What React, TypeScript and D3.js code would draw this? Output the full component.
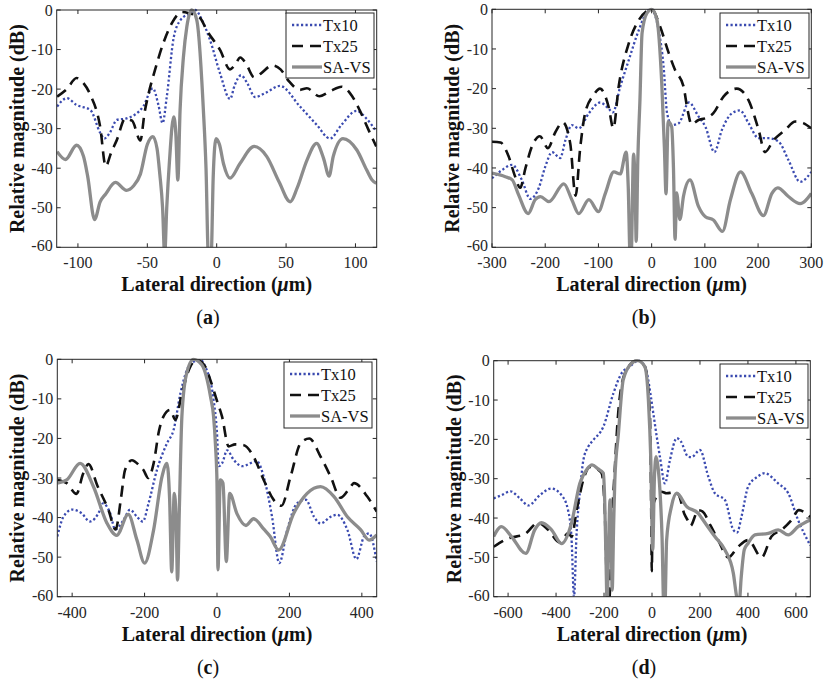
import React from 'react';
import * as d3 from 'd3';

type Pt = [number, number];

// ---------- Data (x in µm, y in dB) ----------
const aTx10: Pt[] = [[-115,-24.4],[-108,-22.3],[-101,-24],[-91,-25.3],[-84,-31],[-81,-32.5],[-77,-31],[-72,-27.8],[-65,-27.4],[-53,-24.4],[-46,-19.8],[-42,-24],[-39,-28.6],[-36,-22],[-31,-7],[-26,-2.5],[-19,-0.8],[-15.6,0],[-10,-3],[-4.8,-7.6],[2.4,-16],[9.6,-22.5],[13,-19],[17.5,-16.5],[22,-18.5],[27.6,-22],[35,-21],[45.6,-19.2],[60,-24.4],[72,-29],[81.6,-32.5],[90,-29],[100.8,-25.5],[108,-27.5],[115,-30.7]];
const aTx25: Pt[] = [[-115,-21.9],[-108,-20],[-101,-17.2],[-96,-18.5],[-91,-21.5],[-84,-29.5],[-80,-39.5],[-76,-36],[-72,-32.9],[-66,-27.5],[-61,-28],[-55,-33],[-52,-26],[-49,-21],[-44.5,-15.2],[-38.5,-8.4],[-32.4,-3.4],[-25,-0.5],[-20,-0.8],[-12,-2],[-7.2,-5.1],[2.4,-10.1],[9.6,-15],[13,-14],[17,-12],[21,-13.5],[27,-17],[32,-16],[40,-14],[46,-15],[52,-18],[60,-20.2],[65,-19.8],[74,-21.8],[82,-20.5],[90,-19.4],[96,-21],[103,-25.3],[109,-30],[115,-34.5]];
const aSAVS: Pt[] = [[-115,-35.8],[-109,-37.8],[-101,-34.2],[-96,-37],[-93,-42],[-88,-53],[-84,-48.5],[-80,-46.5],[-73,-43.6],[-65,-45.6],[-60,-44.5],[-55,-41.5],[-50,-34],[-46,-32],[-43,-35],[-41,-41.5],[-39,-50],[-37.5,-62],[-36,-50],[-34,-38],[-31,-27],[-29.5,-31],[-28,-43],[-26.4,-25.3],[-24,-12],[-21.5,-4.2],[-18,0],[-14.4,-2.5],[-9.6,-25.3],[-7.7,-40],[-6,-62],[-4,-62],[-2.5,-42],[-0.5,-32.5],[2,-34],[5,-39],[9.6,-42.5],[16.8,-38.8],[27,-34.5],[36,-37],[45,-43.5],[53,-48.5],[58,-45],[65,-38],[72,-33.7],[77,-37.5],[81,-42],[84,-37],[91,-32.5],[101,-35.4],[108,-40.4],[112,-43],[115,-43.8]];

const bTx10: Pt[] = [[-300,-42.6],[-281,-40.5],[-262,-39.2],[-244,-43],[-228,-47.8],[-212,-45],[-200,-39.7],[-187,-36],[-172,-37.5],[-162,-33],[-150,-29.2],[-137,-30],[-118,-26.2],[-97,-23.5],[-81,-25],[-73,-26],[-59,-19.5],[-43,-12.8],[-24,-5.2],[-6,-0.2],[0,0],[13,-5.2],[22.5,-14.5],[29,-26.2],[38,-29.2],[51,-28.7],[70,-23.5],[88,-27],[101,-29.6],[118,-36],[132,-30.4],[151,-26.2],[166,-25.5],[182,-28.7],[201,-32.5],[220,-32.5],[239,-33.4],[257,-38],[279,-43.5],[300,-41]];
const bTx25: Pt[] = [[-300,-33.4],[-284,-33.6],[-269,-37],[-257,-42],[-247,-45],[-237,-40],[-225,-34.6],[-210,-32],[-195,-35],[-181,-31],[-167,-28.5],[-153,-33.8],[-143,-47],[-134,-34.6],[-125,-26.2],[-109,-21.6],[-97,-20],[-81,-24.5],[-72,-30],[-62,-19.5],[-43,-8.6],[-24,-2.7],[-6,-0.2],[0,0],[16,-4.4],[32,-11],[44,-15.3],[60,-19.5],[67,-25],[75,-29],[88,-27.9],[100,-27.5],[116,-26.2],[135,-22],[160,-20],[182,-22.9],[201,-30.4],[213,-36],[229,-33],[251,-30.4],[270,-28.3],[285,-28.7],[300,-30]];
const bSAVS: Pt[] = [[-300,-41.3],[-275,-42.2],[-262,-43],[-250,-46.8],[-232,-51.5],[-219,-48],[-209,-47.2],[-193,-48.5],[-165,-44],[-150,-48],[-137,-51.5],[-118,-48],[-100,-51],[-87,-46.4],[-71,-41],[-59,-41.5],[-48,-36],[-44,-44.7],[-40.5,-62],[-38.5,-62],[-34,-36.5],[-31,-45],[-29,-58.5],[-26,-38],[-22,-22.9],[-18,-6],[-9,-1],[0,0],[10,-2.7],[19,-18.7],[24,-35],[27,-46.5],[31,-28.3],[37.6,-29.6],[41,-40],[44,-58],[47,-46.3],[53,-53],[60,-47],[72,-43],[88,-49.7],[101,-52.3],[116,-53.1],[133,-56],[148,-48],[167,-41],[188,-46.4],[210,-52],[226,-46.4],[237,-45],[257,-47.2],[279,-49],[300,-46.4]];

const cTx10: Pt[] = [[-441,-44.8],[-424,-39.8],[-400,-38],[-374,-38.9],[-351,-41],[-323,-38.1],[-315,-36.4],[-295,-38.9],[-281,-43],[-258,-40.6],[-240,-38],[-221,-39.8],[-205,-41],[-189,-36.4],[-166,-28],[-138,-21.2],[-120,-17.9],[-101,-8.6],[-83,-2.7],[-65,-0.6],[-46,-0.2],[-32,-1.9],[-9.4,-10.3],[0,-18.7],[4.6,-27],[14,-26.3],[28,-23],[46,-25.4],[70,-27],[110,-25.7],[129,-29.7],[152,-39.8],[172,-51.5],[194,-43.1],[221,-36.4],[245,-35.5],[268,-39.8],[286,-41.5],[314,-39.8],[332,-39.3],[360,-43.1],[385,-50.5],[406,-44.8],[420,-44],[441,-51.1]];
const cTx25: Pt[] = [[-441,-30.5],[-415,-31.3],[-388,-34],[-370,-29],[-355,-26.5],[-330,-32],[-300,-38],[-280,-43],[-265,-35],[-254,-28],[-235,-25.5],[-215,-26.8],[-203,-28],[-190,-30],[-175,-26.3],[-160,-18],[-148,-14.5],[-129,-12.8],[-115,-15.3],[-97,-8.6],[-74,-1.9],[-55,-0.2],[-32,-1.9],[-18.5,-5.2],[0,-10.5],[14,-14.5],[32,-22],[50,-21.5],[74,-21.7],[101,-24.6],[129,-30.5],[157,-35.6],[178,-37],[203,-29.7],[231,-21.2],[255,-20],[286,-24.6],[314,-29.7],[341,-35],[369,-32.2],[378,-31.3],[415,-34.7],[441,-38.5]];
const cSAVS: Pt[] = [[-441,-31.3],[-415,-30.5],[-378,-26.3],[-341,-32.2],[-304,-41.4],[-277,-44.5],[-245,-39.2],[-221,-45.7],[-200,-51.5],[-175,-43.1],[-152,-29.7],[-138,-26.3],[-131,-35],[-125,-53.7],[-118,-33.9],[-113,-40],[-109,-55.8],[-104,-38],[-97,-14.5],[-85,-4],[-65,0],[-42,-1.4],[-18,-9.4],[-9.4,-14.5],[-4,-22],[0,-31.3],[2.7,-53.2],[9,-30.5],[16.5,-31.3],[25.7,-51.1],[35,-33.9],[55,-39],[80,-42],[101,-40.3],[130,-43],[147,-44.8],[170,-48.2],[212,-38.9],[249,-33.9],[286,-32.2],[323,-34.7],[360,-39.8],[397,-43.1],[420,-45.7],[441,-44.4]];

const dTx10: Pt[] = [[-660,-35],[-628,-34.2],[-590,-33.2],[-551,-35],[-515,-36.8],[-468,-34.2],[-420,-32.5],[-377,-34.2],[-350,-38],[-336,-44.7],[-325,-60],[-315,-44.7],[-300,-33],[-286,-25.2],[-266,-21.9],[-245,-20.2],[-203,-16.8],[-161,-8.3],[-127,-3.2],[-92,-1.5],[-58,0],[-29,-1.5],[-5,-9],[5.5,-13.4],[33,-24.4],[54,-31.2],[75,-25.2],[103,-19.7],[120,-20.5],[151,-24.4],[165,-24.5],[200,-22.7],[235,-29.5],[262,-33.7],[304,-35.4],[339,-43],[355,-43.7],[373,-39.7],[401,-32],[440,-29.5],[470,-28.6],[526,-31.2],[568,-33.7],[609,-40.5],[660,-47]];
const dTx25: Pt[] = [[-660,-47.3],[-600,-45.2],[-530,-44.1],[-475,-41.2],[-433,-43],[-385,-46.2],[-350,-43.9],[-335,-44.7],[-314,-38],[-285,-30],[-259,-27],[-230,-27.5],[-210,-28.6],[-197,-38],[-186,-60],[-180,-62],[-175,-58],[-168,-40],[-162,-34.6],[-141,-13.4],[-113,-3.2],[-65,0],[-30,-1.5],[-9,-13.4],[-3,-40],[-1,-53.5],[2,-42],[8,-36],[40,-33.3],[61,-33.7],[90,-33.5],[110,-34],[135,-39],[151,-40.8],[160,-42],[193,-38],[210,-38.3],[245,-42],[276,-45.6],[318,-50],[359,-47.3],[401,-45.6],[457,-50],[498,-44.7],[540,-43],[582,-40.5],[612,-38],[660,-39.7]];
const dSAVS: Pt[] = [[-660,-44.7],[-628,-42.2],[-586,-44.7],[-526,-49],[-489,-43],[-461,-41.2],[-419,-43],[-377,-46.5],[-336,-41.4],[-301,-31.2],[-270,-27.5],[-250,-26.5],[-225,-27.5],[-203,-28.6],[-197,-36],[-192,-50],[-187,-62],[-182,-50],[-175,-35.4],[-170,-45],[-166,-58.3],[-160,-42],[-155,-30.3],[-140,-18.5],[-120,-4.9],[-86,-0.7],[-60,0],[-30,-1.5],[-15,-10],[-5,-25],[3,-48.1],[10,-30],[17,-24.4],[25,-27],[33,-32.9],[42,-45],[49,-62],[54,-62],[61,-45.6],[81,-37.1],[103,-33.7],[145,-37.1],[193,-38.8],[207,-40],[262,-44.7],[304,-48.1],[339,-54],[353,-60],[363,-62],[372,-55],[385,-48],[401,-46.4],[429,-44.3],[485,-43.9],[526,-43],[568,-44.3],[609,-42.2],[660,-40.5]];

const seriesNames = ['Tx10', 'Tx25', 'SA-VS'];
const yTicks = [0, -10, -20, -30, -40, -50, -60];
const aXTicks = [-100, -50, 0, 50, 100];
const bXTicks = [-300, -200, -100, 0, 100, 200, 300];
const cXTicks = [-400, -200, 0, 200, 400];
const dXTicks = [-600, -400, -200, 0, 200, 400, 600];

// ---------- Layout & styles ----------
const FONT = '"Liberation Serif", "Times New Roman", Times, serif';
const AXIS = '#262626';
const TICK_FS = 16;
const LABEL_FS = 20;
const LEG_FS = 16.5;
const styles = [
  { stroke: '#3a4ab0', width: 2.3, dash: '2.2,2.3' },
  { stroke: '#111111', width: 2.6, dash: '11,7' },
  { stroke: '#8c8c8c', width: 3.3, dash: undefined as string | undefined },
];

const panels = [
  { id: 'a', box: { l: 56.7, r: 376.7, t: 10, b: 247.3 }, xDomain: [-115.3, 115.3], xTicks: aXTicks, data: [aTx10, aTx25, aSAVS], leg: { x: 286, y: 13, w: 88, h: 65 }, cap: { x: 208, y: 324 } },
  { id: 'b', box: { l: 492, r: 811.3, t: 9.3, b: 247.3 }, xDomain: [-300, 300], xTicks: bXTicks, data: [bTx10, bTx25, bSAVS], leg: { x: 720, y: 13, w: 89, h: 65 }, cap: { x: 644, y: 324 } },
  { id: 'c', box: { l: 57.3, r: 376.7, t: 359.3, b: 596.7 }, xDomain: [-441, 441], xTicks: cXTicks, data: [cTx10, cTx25, cSAVS], leg: { x: 284, y: 362, w: 88, h: 66 }, cap: { x: 208, y: 674 } },
  { id: 'd', box: { l: 493.7, r: 810.3, t: 360.7, b: 596.7 }, xDomain: [-660, 660], xTicks: dXTicks, data: [dTx10, dTx25, dSAVS], leg: { x: 720, y: 364, w: 88, h: 64 }, cap: { x: 644, y: 674 } },
];

function Panel({ p }: { p: typeof panels[number] }) {
  const { l, r, t, b } = p.box;
  const x = d3.scaleLinear().domain(p.xDomain).range([l, r]);
  const y = d3.scaleLinear().domain([-60, 0]).range([b, t]);
  const line = d3.line<Pt>().x((d) => x(d[0])).y((d) => y(d[1])).curve(d3.curveMonotoneX);
  const clipId = `clip-${p.id}`;
  const tl = 4;
  const cx = (l + r) / 2;
  const cy = (t + b) / 2;
  return (
    <g>
      <defs>
        <clipPath id={clipId}>
          <rect x={l} y={t - 2} width={r - l} height={b - t + 2} />
        </clipPath>
      </defs>
      <rect x={l} y={t} width={r - l} height={b - t} fill="#fff" />
      <g clipPath={`url(#${clipId})`}>
        {p.data.map((s, i) => (
          <path key={i} d={line(s) || ''} fill="none" stroke={styles[i].stroke} strokeWidth={styles[i].width}
            strokeDasharray={styles[i].dash} strokeLinejoin="round" />
        ))}
      </g>
      <rect x={l} y={t} width={r - l} height={b - t} fill="none" stroke={AXIS} strokeWidth={1} />
      {p.xTicks.map((v) => (
        <g key={`x${v}`}>
          <line x1={x(v)} x2={x(v)} y1={b} y2={b - tl} stroke={AXIS} />
          <line x1={x(v)} x2={x(v)} y1={t} y2={t + tl} stroke={AXIS} />
          <text x={x(v)} y={b + 21} textAnchor="middle" fontSize={TICK_FS} fill={AXIS} fontFamily={FONT}>{v}</text>
        </g>
      ))}
      {yTicks.map((v) => (
        <g key={`y${v}`}>
          <line x1={l} x2={l + tl} y1={y(v)} y2={y(v)} stroke={AXIS} />
          <line x1={r} x2={r - tl} y1={y(v)} y2={y(v)} stroke={AXIS} />
          <text x={l - 4} y={y(v)} dy={v === -60 ? '0.25em' : '0.35em'} textAnchor="end" fontSize={TICK_FS} fill={AXIS} fontFamily={FONT}>{v}</text>
        </g>
      ))}
      <text x={cx} y={b + 44} textAnchor="middle" fontSize={LABEL_FS} fontWeight="bold" fill="#111" fontFamily={FONT}>
        Lateral direction (<tspan fontStyle="italic">μ</tspan>m)
      </text>
      <text transform={`translate(${l - 40},${cy}) rotate(-90)`} textAnchor="middle" dy="0.35em" fontSize={LABEL_FS} fontWeight="bold" fill="#111" fontFamily={FONT}>
        Relative magnitude (dB)
      </text>
      <rect x={p.leg.x} y={p.leg.y} width={p.leg.w} height={p.leg.h} fill="#fff" stroke={AXIS} strokeWidth={1} />
      {seriesNames.map((n, i) => {
        const ly = p.leg.y + 12 + i * 21;
        return (
          <g key={n}>
            <line x1={p.leg.x + 6} x2={p.leg.x + 36} y1={ly} y2={ly} stroke={styles[i].stroke} strokeWidth={styles[i].width} strokeDasharray={styles[i].dash} />
            <text x={p.leg.x + 37} y={ly} dy="0.35em" fontSize={LEG_FS} fill="#111" fontFamily={FONT}>{n}</text>
          </g>
        );
      })}
      <text x={p.cap.x} y={p.cap.y} textAnchor="middle" fontSize={LABEL_FS} fill="#111" fontFamily={FONT}>
        (<tspan fontWeight="bold">{p.id}</tspan>)
      </text>
    </g>
  );
}

export default function App() {
  return (
    <svg width={824} height={680} style={{ position: 'absolute', left: 0, top: 0, background: '#fff' }}>
      <rect x={0} y={0} width={824} height={680} fill="#fff" />
      {panels.map((p) => <Panel key={p.id} p={p} />)}
    </svg>
  );
}
